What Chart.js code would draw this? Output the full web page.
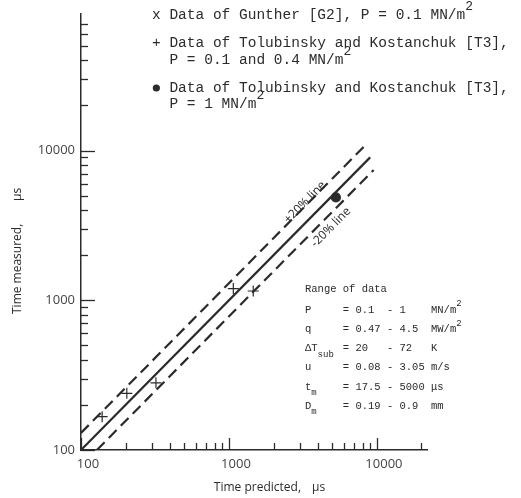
<!DOCTYPE html>
<html>
<head>
<meta charset="utf-8">
<title>Time measured vs time predicted</title>
<script src="https://cdn.jsdelivr.net/npm/chart.js@4/dist/chart.umd.min.js"></script>
<style>
  html, body { margin: 0; padding: 0; background: #ffffff; }
  #wrap { position: relative; width: 521px; height: 498px; }
</style>
</head>
<body>
<div id="wrap"><canvas id="chart"></canvas></div>
<script>
// Bubble lifetime: measured against predicted, log-log, with +/-20% bands

const INK = '#2b2b2b';
const SANS = "'Open Sans', 'DejaVu Sans', sans-serif";
const MONO = "'Liberation Mono', 'DejaVu Sans Mono', monospace";

// Axis ranges (microseconds)
const xRange = [100, 21800];
const yRange = [100, 81900];

// Tick marks and the values that get a printed label
const xTickValues = [100, 200, 300, 400, 500, 600, 700, 800, 900,
                     1000, 2000, 3000, 4000, 5000, 6000, 7000, 8000, 9000,
                     10000, 20000];
const yTickValues = [100, 200, 300, 400, 500, 600, 700, 800, 900,
                     1000, 2000, 3000, 4000, 5000, 6000, 7000, 8000, 9000,
                     10000, 20000, 30000, 40000, 50000, 60000, 70000];
const labelledTicks = [100, 1000, 10000];

// Reference lines: perfect agreement and the two 20% bands
const perfectLine = [{ x: 100, y: 100 }, { x: 9000, y: 9000 }];
const plusLine = [{ x: 100, y: 130 }, { x: 8200, y: 10660 }];
const minusLine = [{ x: 128, y: 100 }, { x: 9500, y: 7410 }];

// Data points
const guntherPoints = [];
const tolubinskyLowP = [
  { x: 139, y: 167 },
  { x: 204, y: 239 },
  { x: 321, y: 281 },
  { x: 1070, y: 1197 },
  { x: 1459, y: 1153 }
];
const tolubinskyHighP = [{ x: 5280, y: 4860 }];

// Band labels, anchored in data space
const bandLabels = [
  { text: '+20% line', x: 3265, y: 4500 },
  { text: '-20% line', x: 4890, y: 3067 }
];

// Key, one entry per typed line
const legendLines = [
  { text: 'x Data of Gunther [G2], P = 0.1 MN/m', sup: '2' },
  { text: '+ Data of Tolubinsky and Kostanchuk [T3],' },
  { text: '  P = 0.1 and 0.4 MN/m', sup: '2' },
  { text: '  Data of Tolubinsky and Kostanchuk [T3],', dot: true },
  { text: '  P = 1 MN/m', sup: '2' }
];

// Range of data table
const rangeTitle = 'Range of data';
const rangeRows = [
  { sym: 'P', sub: '', value: '= 0.1  - 1    MN/m', sup: '2' },
  { sym: 'q', sub: '', value: '= 0.47 - 4.5  MW/m', sup: '2' },
  { sym: '\u0394T', sub: 'sub', value: '= 20   - 72   K' },
  { sym: 'u', sub: '', value: '= 0.08 - 3.05 m/s' },
  { sym: 't', sub: 'm', value: '= 17.5 - 5000 \u03bcs' },
  { sym: 'D', sub: 'm', value: '= 0.19 - 0.9  mm' }
];

// Axis titles, split so the unit sits apart from the words
const xTitle = ['Time predicted,', '\u03bcs'];
const yTitle = ['Time measured,', '\u03bcs'];

// Short inward tick marks, longer on each decade
const inwardTicks = {
  id: 'inwardTicks',
  afterDatasetsDraw(chart) {
    const { ctx, chartArea } = chart;
    const xs = chart.scales.x, ys = chart.scales.y;
    ctx.save();
    ctx.strokeStyle = INK;
    ctx.lineWidth = 1.3;
    xs.ticks.forEach(t => {
      const px = Math.round(xs.getPixelForValue(t.value)) + 0.5;
      const len = labelledTicks.includes(t.value) ? 12 : 7;
      ctx.beginPath();
      ctx.moveTo(px, chartArea.bottom);
      ctx.lineTo(px, chartArea.bottom - len);
      ctx.stroke();
    });
    ys.ticks.forEach(t => {
      const py = Math.round(ys.getPixelForValue(t.value)) + 0.5;
      const len = labelledTicks.includes(t.value) ? 14 : 7;
      ctx.beginPath();
      ctx.moveTo(chartArea.left, py);
      ctx.lineTo(chartArea.left + len, py);
      ctx.stroke();
    });
    ctx.restore();
  }
};

// Rotated "+20% line" / "-20% line" text along the bands
const bandText = {
  id: 'bandText',
  afterDatasetsDraw(chart) {
    const { ctx } = chart;
    const xs = chart.scales.x, ys = chart.scales.y;
    const dx = xs.getPixelForValue(10000) - xs.getPixelForValue(1000);
    const dy = ys.getPixelForValue(10000) - ys.getPixelForValue(1000);
    const angle = Math.atan2(dy, dx);
    ctx.save();
    ctx.fillStyle = INK;
    ctx.font = '12px ' + SANS;
    ctx.textAlign = 'center';
    ctx.textBaseline = 'middle';
    bandLabels.forEach(b => {
      ctx.save();
      ctx.translate(xs.getPixelForValue(b.x), ys.getPixelForValue(b.y));
      ctx.rotate(angle);
      ctx.fillText(b.text, 0, 0);
      ctx.restore();
    });
    ctx.restore();
  }
};

// Axis titles, the typed key and the range table
const annotations = {
  id: 'annotations',
  afterDraw(chart) {
    const { ctx } = chart;
    ctx.save();
    ctx.fillStyle = INK;
    ctx.textBaseline = 'middle';

    ctx.font = '12px ' + SANS;
    ctx.textAlign = 'right';
    ctx.fillText(xTitle[0], 301, 488);
    ctx.textAlign = 'left';
    ctx.fillText(xTitle[1], 312, 488);
    ctx.save();
    ctx.translate(18, 0);
    ctx.rotate(-Math.PI / 2);
    ctx.textAlign = 'left';
    ctx.fillText(yTitle[0], -314, 0);
    ctx.fillText(yTitle[1], -201, 0);
    ctx.restore();

    // key
    ctx.textAlign = 'left';
    const keyX = 152;
    const keyY = [15, 43, 60, 88, 104];
    ctx.font = '14.5px ' + MONO;
    const cw = ctx.measureText('M').width;
    legendLines.forEach((line, i) => {
      ctx.font = '14.5px ' + MONO;
      ctx.fillText(line.text, keyX, keyY[i]);
      if (line.dot) {
        ctx.beginPath();
        ctx.arc(keyX + cw * 0.5, keyY[i], 3.6, 0, Math.PI * 2);
        ctx.fill();
      }
      if (line.sup) {
        ctx.font = '13px ' + MONO;
        ctx.fillText(line.sup, keyX + cw * line.text.length, keyY[i] - 8);
      }
    });

    // range table
    const tx = 305;
    ctx.font = '10.5px ' + MONO;
    const tc = ctx.measureText('M').width;
    ctx.fillText(rangeTitle, tx, 289);
    rangeRows.forEach((row, i) => {
      const y = 310 + i * 19.2;
      ctx.font = '10.5px ' + MONO;
      ctx.fillText(row.sym, tx, y);
      ctx.fillText(row.value, tx + tc * 6, y);
      if (row.sup) {
        ctx.font = '9px ' + MONO;
        ctx.fillText(row.sup, tx + tc * (6 + row.value.length), y - 6);
      }
      if (row.sub) {
        ctx.font = '9px ' + MONO;
        ctx.fillText(row.sub, tx + tc * row.sym.length, y + 6);
      }
    });
    ctx.restore();
  }
};

function lineSet(data, dash) {
  return {
    data: data,
    showLine: true,
    borderColor: INK,
    borderWidth: 2.2,
    borderDash: dash,
    pointRadius: 0,
    fill: false
  };
}

function pointSet(data, style, radius, filled) {
  return {
    data: data,
    showLine: false,
    pointStyle: style,
    pointRadius: radius,
    pointBorderWidth: 1.2,
    pointBorderColor: INK,
    pointBackgroundColor: filled ? INK : 'rgba(0,0,0,0)'
  };
}

function onlyTicks(values) {
  return function (scale) {
    scale.ticks = values.map(v => ({ value: v }));
  };
}

function decadeLabel(value) {
  return labelledTicks.includes(value) ? String(value) : '';
}

new Chart(document.getElementById('chart'), {
  type: 'scatter',
  data: {
    datasets: [
      lineSet(perfectLine, []),
      lineSet(plusLine, [11, 6]),
      lineSet(minusLine, [11, 6]),
      pointSet(guntherPoints, 'crossRot', 5, false),
      pointSet(tolubinskyLowP, 'cross', 5.5, false),
      pointSet(tolubinskyHighP, 'circle', 4.5, true)
    ]
  },
  options: {
    responsive: true,
    maintainAspectRatio: false,
    animation: false,
    layout: { padding: { top: 13, right: 94, bottom: 0, left: 0 } },
    plugins: {
      legend: { display: false },
      tooltip: { enabled: false }
    },
    scales: {
      x: {
        type: 'logarithmic',
        min: xRange[0],
        max: xRange[1],
        afterBuildTicks: onlyTicks(xTickValues),
        afterFit(scale) { scale.height = 48; },
        grid: { display: false, drawTicks: false },
        border: { display: true, color: INK, width: 1.5 },
        ticks: {
          autoSkip: false,
          maxRotation: 0,
          padding: 6,
          labelOffset: 7,
          color: '#444',
          font: { family: SANS, size: 13 },
          callback: decadeLabel
        }
      },
      y: {
        type: 'logarithmic',
        min: yRange[0],
        max: yRange[1],
        afterBuildTicks: onlyTicks(yTickValues),
        afterFit(scale) { scale.width = 81; },
        grid: { display: false, drawTicks: false },
        border: { display: true, color: INK, width: 1.5 },
        ticks: {
          autoSkip: false,
          padding: 6,
          color: '#444',
          font: { family: SANS, size: 13 },
          callback: decadeLabel
        }
      }
    }
  },
  plugins: [inwardTicks, bandText, annotations]
});
</script>
</body>
</html>
